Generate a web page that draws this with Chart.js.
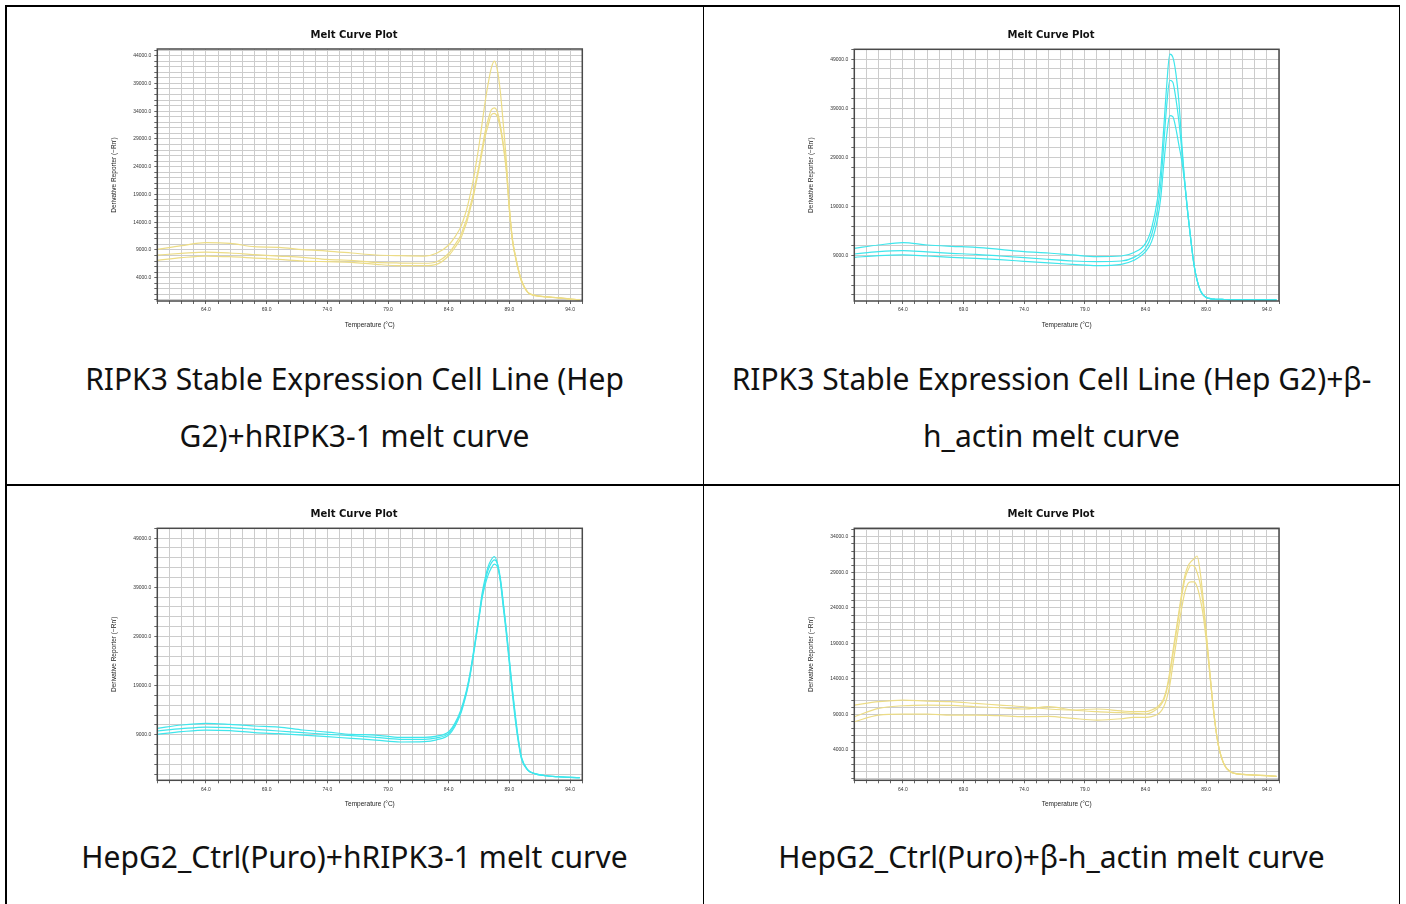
<!DOCTYPE html>
<html>
<head>
<meta charset="utf-8">
<script src="https://cdn.jsdelivr.net/npm/chart.js@4.4.1/dist/chart.umd.min.js"></script>
<style>
  html, body { margin: 0; padding: 0; background: #fff; }
  #page { position: relative; width: 1406px; height: 904px; overflow: hidden; background: #fff; }
  .line { position: absolute; background: #000; }
  .plot { position: absolute; }
  .caption {
    position: absolute;
    text-align: center;
    white-space: nowrap;
    font-family: "Noto Sans", sans-serif;
    font-size: 30px;
    line-height: 57px;
    color: #111;
  }
</style>
</head>
<body>
<div id="page">
  <div class="line" style="left:5px; top:5px; width:1395px; height:1.5px"></div>
  <div class="line" style="left:5px; top:484px; width:1395px; height:1.5px"></div>
  <div class="line" style="left:5px; top:5px; width:1.5px; height:899px"></div>
  <div class="line" style="left:702.5px; top:5px; width:1.5px; height:899px"></div>
  <div class="line" style="left:1398.5px; top:5px; width:1.5px; height:899px"></div>

  <canvas id="ripkHep" class="plot" width="508" height="310" style="left:100px; top:25px"></canvas>
  <canvas id="actinHep" class="plot" width="502" height="310" style="left:800px; top:25px"></canvas>
  <canvas id="ripkCtrl" class="plot" width="508" height="310" style="left:100px; top:505px"></canvas>
  <canvas id="actinCtrl" class="plot" width="502" height="310" style="left:800px; top:505px"></canvas>

  <div class="caption" style="left:6px; width:697px; top:350px">RIPK3 Stable Expression Cell Line (Hep<br>G2)+hRIPK3-1 melt curve</div>
  <div class="caption" style="left:704px; width:695px; top:350px">RIPK3 Stable Expression Cell Line (Hep G2)+β-<br>h_actin melt curve</div>
  <div class="caption" style="left:6px; width:697px; top:828px">HepG2_Ctrl(Puro)+hRIPK3-1 melt curve</div>
  <div class="caption" style="left:704px; width:695px; top:828px">HepG2_Ctrl(Puro)+β-h_actin melt curve</div>
</div>

<script>
// temperature points (°C) shared by every curve
const temps = [60, 62, 64, 66, 68, 70, 72, 74, 76, 78, 80, 82, 83, 84, 84.5, 85, 85.25, 85.5, 85.75,
  86, 86.25, 86.5, 86.75, 87, 87.25, 87.5, 87.75, 88, 88.25, 88.5, 88.75, 89, 89.25, 89.5, 89.75,
  90, 90.5, 91, 92, 93, 94, 94.8];

// RIPK3 Stable Expression Cell Line (Hep G2) + hRIPK3-1
const ripkHepA = [9100, 9770, 10300, 10190, 9590, 9470, 9050, 8800, 8450, 8090, 7960, 7900, 8400, 9890, 11300,
  13200, 14700, 16500, 18800, 21300, 24500, 27900, 31800, 35700, 39000, 41700, 43000, 41500, 37500, 31500,
  24900, 16500, 10900, 7900, 5400, 3500, 1400, 880, 580, 400, 160, 0];
const ripkHepB = [8080, 8380, 8620, 8450, 8140, 7900, 7660, 7300, 7120, 6760, 6640, 6600, 6880, 8400, 9900,
  11700, 13200, 14700, 16800, 18900, 21600, 24300, 27300, 30300, 32500, 34200, 34600, 33900, 31500, 28000,
  23500, 16300, 10800, 7700, 5300, 3400, 1400, 850, 560, 380, 150, 0];
const ripkHepC = [7120, 7600, 7900, 7780, 7540, 7300, 7000, 6880, 6760, 6400, 6160, 6160, 6410, 7960, 9400,
  11100, 12600, 14100, 16200, 18300, 21000, 23700, 26600, 29400, 31500, 33300, 33600, 33000, 30900, 27600,
  23000, 16000, 10600, 7600, 5200, 3300, 1350, 820, 540, 360, 140, 0];

// RIPK3 Stable Expression Cell Line (Hep G2) + β-h_actin
const actinHepA = [10490, 11170, 11650, 11170, 10900, 10700, 10290, 9820, 9540, 9140, 8800, 8930, 9600, 11500, 14570,
  20700, 26100, 34900, 43800, 50000, 49400, 46150, 40370, 31550, 23400, 17300, 11900, 7100, 4000, 2000,
  1000, 510, 300, 170, 130, 100, 80, 60, 40, 20, 10, 0];
const actinHepB = [9340, 9820, 10020, 9750, 9480, 9270, 8930, 8590, 8250, 7910, 7780, 7910, 8600, 10500, 13200,
  18600, 23400, 31500, 39700, 44700, 44300, 41000, 36300, 30200, 23600, 17300, 11900, 7100, 4000, 2000,
  1000, 510, 300, 170, 130, 100, 80, 60, 40, 20, 10, 0];
const actinHepC = [8660, 9000, 9140, 8930, 8660, 8460, 8190, 7850, 7510, 7230, 6960, 7230, 8000, 9800, 11850,
  16600, 20700, 27500, 33600, 37500, 37300, 34900, 31500, 28100, 23300, 17200, 11800, 7000, 3950, 1980,
  990, 500, 300, 170, 130, 100, 80, 60, 40, 20, 10, 0];

// HepG2_Ctrl(Puro) + hRIPK3-1
const ripkCtrlA = [10290, 10970, 11310, 11100, 10770, 10560, 9950, 9540, 9070, 8930, 8460, 8460, 8700, 9610, 11310,
  14030, 16060, 18440, 21500, 25230, 29300, 33380, 37790, 40850, 43230, 44590, 45260, 43900, 40200, 34700,
  29300, 23200, 17100, 11600, 7200, 4000, 1800, 1120, 650, 440, 310, 240];
const ripkCtrlB = [9750, 10220, 10560, 10430, 10090, 9750, 9410, 9070, 8800, 8460, 8050, 8050, 8350, 9270, 10970,
  13690, 15720, 18100, 21160, 24890, 28970, 33040, 37120, 40170, 42550, 43910, 44590, 43900, 40900, 35800,
  30300, 24200, 18100, 12700, 7900, 4400, 1900, 1150, 660, 450, 315, 245];
const ripkCtrlC = [9070, 9610, 9950, 9820, 9410, 9200, 8930, 8590, 8250, 7910, 7510, 7570, 7950, 8930, 10630,
  13350, 15380, 17760, 20820, 24550, 28630, 32700, 36780, 39490, 41530, 42890, 43700, 43200, 40500, 35400,
  30000, 23900, 17800, 12300, 7600, 4200, 1850, 1130, 650, 440, 310, 240];

// HepG2_Ctrl(Puro) + β-h_actin
const actinCtrlA = [10330, 10800, 11030, 10890, 10800, 10560, 10330, 10090, 9770, 9630, 9770, 9500, 9390, 9390, 9630,
  10090, 10560, 11270, 12670, 15020, 17830, 20640, 23450, 26270, 28600, 29900, 30500, 30900, 31300, 29100,
  25300, 20600, 15950, 11270, 7520, 4700, 1890, 950, 580, 480, 390, 300];
const actinCtrlB = [8690, 9860, 10230, 10330, 10280, 10090, 9950, 9770, 10100, 9630, 9390, 9250, 9160, 9060, 9300,
  9860, 10330, 11030, 12440, 14550, 17360, 20170, 22980, 25800, 28100, 29300, 30000, 29900, 29000, 27400,
  24400, 20200, 15700, 11270, 7520, 4700, 1890, 950, 580, 480, 390, 300];
const actinCtrlC = [7980, 8920, 9060, 9060, 8920, 8920, 8830, 8690, 8730, 8450, 8220, 8400, 8590, 8590, 8690,
  9020, 9390, 10090, 11270, 13140, 15950, 18770, 21580, 24160, 26270, 27440, 27670, 27670, 26970, 25330,
  22980, 19470, 15480, 11270, 7520, 4700, 1890, 950, 580, 480, 390, 300];

// tick labels
const xLabels = [64, 69, 74, 79, 84, 89, 94];
const yLabelsRipkHep = [4000, 9000, 14000, 19000, 24000, 29000, 34000, 39000, 44000];
const yLabelsActinHep = [9000, 19000, 29000, 39000, 49000];
const yLabelsRipkCtrl = [9000, 19000, 29000, 39000, 49000];
const yLabelsActinCtrl = [4000, 9000, 14000, 19000, 24000, 29000, 34000];

const YELLOW = "#ecdc86";
const CYAN = "#3fe6ec";

const frame = {
  id: "frame",
  afterDraw(chart) {
    const { ctx, chartArea: a } = chart;
    ctx.save();
    ctx.strokeStyle = "#4a4a4a";
    ctx.lineWidth = 1.5;
    ctx.strokeRect(a.left, a.top, a.right - a.left, a.bottom - a.top);
    ctx.restore();
  },
};

function gridValues(labels, step, min, max) {
  const out = [];
  let v = labels[0];
  while (v - step >= min) v -= step;
  for (; v <= max; v += step) out.push(v);
  return out;
}

function drawMelt(id, series, color, yLabels, yMin, yMax, yStep, box) {
  const xGrid = [];
  for (let t = 60; t <= 95; t++) xGrid.push(t);
  const yGrid = gridValues(yLabels, yStep, yMin, yMax);
  const tickFont = { family: "Liberation Sans", size: 5 };
  const titleFont = { family: "Liberation Sans", size: 6.5 };

  new Chart(document.getElementById(id), {
    type: "line",
    data: {
      datasets: series.map((s) => ({
        data: temps.map((t, i) => ({ x: t, y: s[i] })),
        borderColor: color,
        borderWidth: 1.2,
        pointRadius: 0,
        fill: false,
        cubicInterpolationMode: "monotone",
      })),
    },
    options: {
      responsive: false,
      animation: false,
      plugins: {
        legend: { display: false },
        tooltip: { enabled: false },
        title: {
          display: true,
          text: "Melt Curve Plot",
          color: "#111",
          font: { family: "DejaVu Sans", size: 10, weight: "bold" },
          padding: { top: box.titleTop, bottom: box.titleBottom },
        },
      },
      scales: {
        x: {
          type: "linear",
          min: 60,
          max: 95,
          afterBuildTicks: (scale) => {
            scale.ticks = xGrid.map((v) => ({ value: v }));
          },
          afterFit: (scale) => {
            scale.height = box.xHeight;
          },
          ticks: {
            autoSkip: false,
            maxRotation: 0,
            padding: 3,
            color: "#333",
            font: tickFont,
            callback: (v) => (xLabels.includes(v) ? v.toFixed(1) : ""),
          },
          grid: { color: "#cccccc", lineWidth: 1, tickLength: 3, tickColor: "#666" },
          border: { display: false },
          title: {
            display: true,
            text: "Temperature (°C)",
            color: "#222",
            font: titleFont,
            padding: { top: 0, bottom: box.xTitlePad },
          },
        },
        y: {
          type: "linear",
          min: yMin,
          max: yMax,
          afterBuildTicks: (scale) => {
            scale.ticks = yGrid.map((v) => ({ value: v }));
          },
          afterFit: (scale) => {
            scale.width = box.yWidth;
          },
          ticks: {
            autoSkip: false,
            padding: 3,
            color: "#333",
            font: tickFont,
            callback: (v) => (yLabels.includes(v) ? v.toFixed(1) : ""),
          },
          grid: { color: "#cccccc", lineWidth: 1, tickLength: 3, tickColor: "#666" },
          border: { display: false },
          title: {
            display: true,
            text: "Derivative Reporter (−Rn′)",
            color: "#222",
            font: titleFont,
            padding: { top: box.yTitlePad, bottom: 0 },
          },
        },
        // empty strip on the right so the title centres on the whole canvas
        spacer: {
          type: "linear",
          position: "right",
          ticks: { display: false },
          grid: { display: false },
          border: { display: false },
          afterFit: (scale) => {
            scale.width = box.padRight;
          },
        },
      },
    },
    plugins: [frame],
  });
}

drawMelt("ripkHep", [ripkHepA, ripkHepB, ripkHepC], YELLOW, yLabelsRipkHep, -200, 45200, 1000,
  { yWidth: 57.3, padRight: 25.7, titleTop: 4.4, titleBottom: 7.6, xHeight: 34, xTitlePad: 6.1, yTitlePad: 10.5 });
drawMelt("actinHep", [actinHepA, actinHepB, actinHepC], CYAN, yLabelsActinHep, -230, 51000, 2000,
  { yWidth: 54.3, padRight: 23, titleTop: 4.4, titleBottom: 7.9, xHeight: 34, xTitlePad: 6.1, yTitlePad: 7.8 });
drawMelt("ripkCtrl", [ripkCtrlA, ripkCtrlB, ripkCtrlC], CYAN, yLabelsRipkCtrl, -280, 51000, 2000,
  { yWidth: 57.3, padRight: 25.7, titleTop: 3.4, titleBottom: 7.9, xHeight: 34.7, xTitlePad: 7.1, yTitlePad: 10.5 });
drawMelt("actinCtrl", [actinCtrlA, actinCtrlB, actinCtrlC], YELLOW, yLabelsActinCtrl, -260, 35200, 1000,
  { yWidth: 54.3, padRight: 23, titleTop: 3.4, titleBottom: 7.9, xHeight: 34.7, xTitlePad: 7.1, yTitlePad: 7.8 });
</script>
</body>
</html>
